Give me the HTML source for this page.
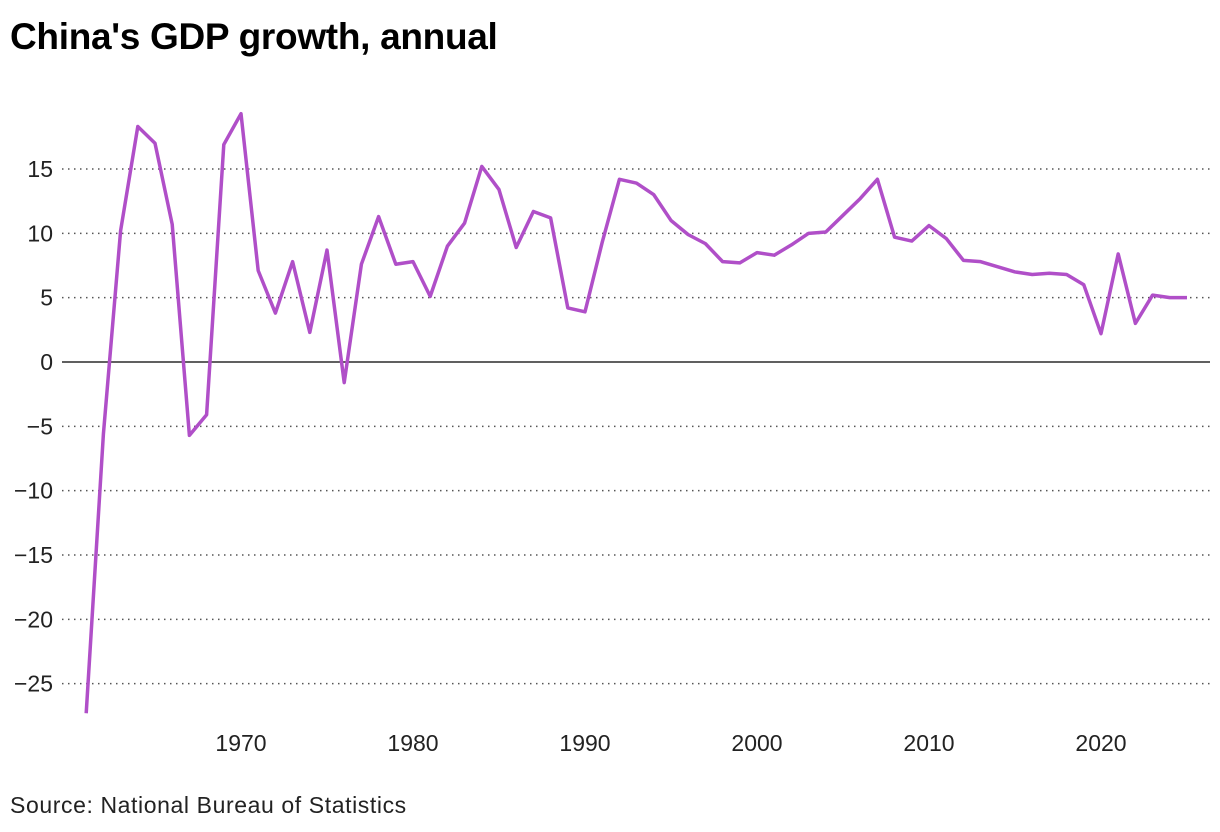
<!DOCTYPE html>
<html><head><meta charset="utf-8"><style>
body{margin:0;background:#fff;font-family:"Liberation Sans",sans-serif;}
#wrap{position:relative;width:1220px;height:832px;overflow:hidden}
#title{position:absolute;left:10px;top:16px;font-size:37px;font-weight:bold;color:#000;letter-spacing:-0.3px}
#source{position:absolute;left:10px;top:792px;font-size:23px;color:#222;letter-spacing:0.6px}
svg{position:absolute;left:0;top:0}
</style></head><body>
<div id="wrap">
<div id="title">China's GDP growth, annual</div>
<svg id="chart" width="1220" height="832"></svg>
<div id="source">Source: National Bureau of Statistics</div>
</div>
<script>
const years=[];for(let y=1961;y<=2025;y++)years.push(y);
const growth=[-27.3,-5.6,10.2,18.3,17.0,10.7,-5.7,-4.1,16.9,19.3,7.1,3.8,7.8,2.3,8.7,-1.6,7.6,11.3,7.6,7.8,5.1,9.0,10.8,15.2,13.4,8.9,11.7,11.2,4.2,3.9,9.3,14.2,13.9,13.0,11.0,9.9,9.2,7.8,7.7,8.5,8.3,9.1,10.0,10.1,11.4,12.7,14.2,9.7,9.4,10.6,9.6,7.9,7.8,7.4,7.0,6.8,6.9,6.8,6.0,2.2,8.4,3.0,5.2,5.0,5.0];
const yTicks=[15,10,5,0,-5,-10,-15,-20,-25];
const xTicks=[1970,1980,1990,2000,2010,2020];
const NS="http://www.w3.org/2000/svg";
const svg=document.getElementById('chart');
const xs=y=>241+(y-1970)*17.2;
const ys=v=>362-v*12.867;
function mk(t,a){const e=document.createElementNS(NS,t);for(const k in a)e.setAttribute(k,a[k]);svg.appendChild(e);return e;}
yTicks.forEach(v=>{
  const l=mk('line',{x1:62,x2:1210,y1:ys(v),y2:ys(v),stroke:v===0?'#000':'#555','stroke-width':v===0?1.3:1.5,'stroke-dasharray':v===0?'none':'1.5 4.5'});
  
  
  const t=mk('text',{x:53,y:ys(v)+8,'text-anchor':'end','font-size':23,fill:'#222','font-family':'Liberation Sans, sans-serif'});
  t.textContent=v<0?'\u2212'+Math.abs(v):String(v);
  
  
});
xTicks.forEach(y=>{
  const t=mk('text',{x:xs(y),y:751,'text-anchor':'middle','font-size':23,fill:'#222','font-family':'Liberation Sans, sans-serif'});
  t.textContent=y;
  
  
});
const p=mk('polyline',{points:years.map((y,i)=>xs(y)+','+ys(growth[i])).join(' '),fill:'none',stroke:'#b04fc8','stroke-width':3.5,'stroke-linejoin':'round'});


</script>
</body></html>
